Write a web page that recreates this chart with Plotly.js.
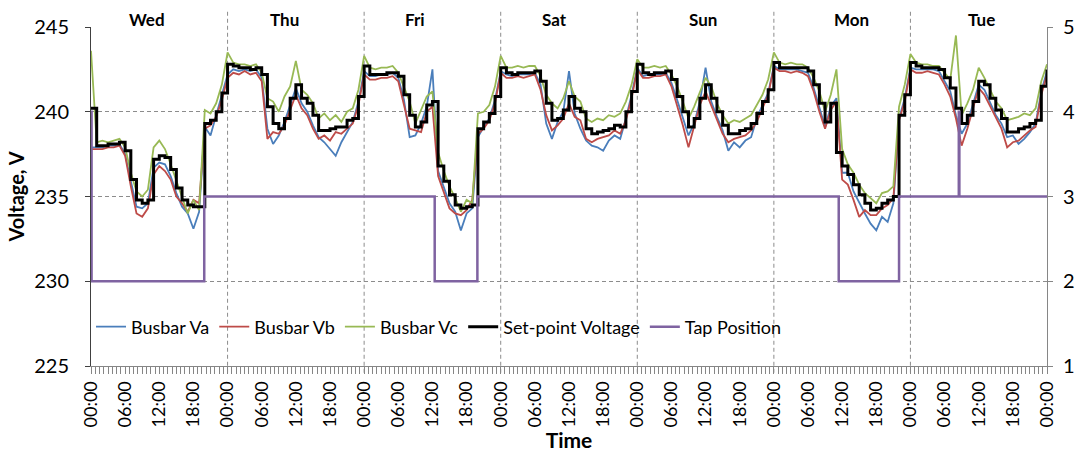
<!DOCTYPE html>
<html><head><meta charset="utf-8">
<script src="https://cdn.plot.ly/plotly-3.0.1.min.js"></script>
<style>html,body{margin:0;padding:0;background:#fff}#chart{width:1081px;height:453px}</style>
</head><body><div id="chart"></div>
<script>
// ---- data (hourly samples, starting Wednesday 00:00) ----
const startDay = [2014, 0, 1]; // a Wednesday
const sampleHours = 1;
const dayLabels = ['Wed', 'Thu', 'Fri', 'Sat', 'Sun', 'Mon', 'Tue'];

const setPoint = [
240.2, 238.0, 238.0, 238.1, 238.1, 238.2, 237.7, 236.0, 234.8, 234.6,
234.8, 237.2, 237.4, 237.3, 236.6, 235.5, 234.8, 234.5, 234.4, 234.4,
239.3, 239.5, 240.0, 241.1, 242.8, 242.7, 242.6, 242.6, 242.5, 242.6,
242.2, 240.3, 239.3, 239.0, 239.6, 240.8, 241.6, 240.8, 240.5, 239.8,
238.9, 238.9, 239.0, 239.1, 239.1, 239.5, 239.6, 240.9, 242.7, 242.2,
242.2, 242.2, 242.3, 242.3, 242.1, 241.0, 239.8, 239.1, 239.4, 240.4,
240.6, 236.8, 235.9, 235.1, 234.5, 234.3, 234.4, 234.5, 239.0, 239.4,
239.9, 240.9, 242.6, 242.3, 242.2, 242.3, 242.3, 242.3, 242.4, 241.8,
240.5, 239.5, 239.6, 240.1, 240.9, 240.2, 240.0, 239.0, 238.7, 238.8,
238.9, 239.0, 239.2, 239.1, 240.0, 241.2, 242.8, 242.3, 242.2, 242.3,
242.3, 242.4, 241.9, 240.9, 240.0, 239.1, 239.6, 240.8, 241.6, 240.8,
240.0, 239.2, 238.7, 238.7, 238.9, 239.0, 239.3, 239.9, 240.6, 241.3,
242.9, 242.6, 242.6, 242.6, 242.6, 242.6, 242.4, 241.6, 240.5, 239.4,
240.5, 237.6, 236.8, 236.3, 235.7, 235.1, 234.6, 234.2, 234.3, 234.6,
234.8, 235.0, 239.8, 241.0, 242.9, 242.7, 242.6, 242.6, 242.6, 242.5,
242.0, 241.4, 240.2, 239.3, 239.8, 240.6, 241.8, 241.6, 240.8, 240.1,
239.6, 238.8, 238.8, 239.0, 239.1, 239.3, 239.5, 241.5, 242.5
];

const busbarVa = [
237.9, 237.9, 237.9, 238.0, 238.0, 238.1, 237.5, 235.9, 234.4, 234.3,
234.6, 236.7, 237.0, 236.9, 236.2, 235.2, 234.4, 234.0, 233.1, 234.1,
239.1, 238.6, 239.8, 240.9, 242.2, 242.5, 242.4, 242.5, 242.4, 242.5,
242.0, 239.0, 238.1, 238.6, 239.4, 240.4, 241.4, 240.5, 240.0, 239.2,
238.5, 238.2, 237.8, 237.4, 238.2, 238.8, 239.4, 240.6, 242.4, 242.1,
242.1, 242.2, 242.2, 242.3, 242.0, 240.7, 238.5, 238.6, 239.3, 240.3,
242.5, 236.5, 235.5, 234.6, 234.1, 233.0, 234.0, 234.3, 238.5, 239.1,
239.6, 240.7, 242.4, 242.2, 242.1, 242.2, 242.2, 242.2, 242.3, 241.6,
239.3, 238.4, 239.4, 240.0, 242.4, 239.9, 239.0, 238.3, 238.0, 237.9,
237.7, 238.3, 238.6, 238.4, 239.6, 241.0, 242.6, 242.1, 242.2, 242.2,
242.2, 242.3, 241.7, 240.7, 239.6, 238.6, 239.3, 240.6, 242.6, 240.6,
239.7, 238.9, 237.7, 238.2, 237.9, 238.3, 238.5, 239.6, 240.4, 241.1,
242.7, 242.5, 242.5, 242.5, 242.5, 242.4, 242.3, 241.4, 240.2, 239.1,
240.3, 240.8, 236.4, 236.4, 235.3, 234.6, 234.0, 233.4, 233.0, 233.8,
233.5, 234.6, 239.6, 240.8, 242.6, 242.5, 242.5, 242.5, 242.5, 242.4,
241.8, 241.2, 239.8, 238.7, 239.3, 240.4, 241.6, 241.3, 240.5, 239.8,
239.3, 238.5, 238.6, 238.1, 238.4, 238.8, 239.3, 241.2, 242.4
];

const busbarVb = [
237.8, 237.8, 237.8, 237.9, 237.9, 238.0, 237.4, 235.6, 234.0, 233.8,
234.3, 236.3, 236.8, 236.5, 236.0, 235.0, 234.6, 234.1, 234.8, 234.6,
239.0, 239.2, 239.7, 240.7, 242.0, 242.3, 242.2, 242.4, 242.2, 242.3,
241.8, 238.4, 238.8, 238.7, 239.2, 240.1, 241.0, 240.2, 239.8, 239.0,
238.4, 238.6, 238.3, 238.8, 238.7, 239.0, 239.3, 240.4, 242.2, 241.9,
241.9, 242.0, 242.0, 242.1, 241.8, 240.4, 239.0, 238.9, 238.8, 240.0,
240.3, 236.2, 235.2, 234.3, 234.0, 233.9, 234.2, 234.8, 238.7, 239.0,
239.5, 240.5, 242.3, 242.0, 242.0, 242.1, 242.0, 242.1, 242.2, 241.3,
239.8, 238.9, 239.2, 239.6, 240.5, 239.7, 239.5, 238.4, 238.2, 238.4,
238.5, 238.6, 238.9, 238.7, 239.5, 240.8, 242.5, 242.0, 242.0, 242.1,
242.1, 242.2, 241.5, 240.4, 239.2, 237.9, 239.1, 240.4, 241.2, 240.4,
239.5, 238.7, 238.2, 238.4, 238.5, 238.6, 238.9, 239.4, 240.2, 241.0,
242.6, 242.4, 242.4, 242.3, 242.4, 242.3, 242.1, 241.2, 240.0, 239.0,
240.1, 240.6, 236.0, 235.7, 234.8, 233.8, 234.2, 233.9, 233.9, 234.3,
234.5, 234.9, 239.5, 240.6, 242.5, 242.3, 242.3, 242.4, 242.3, 242.2,
241.6, 240.9, 239.6, 238.0, 239.0, 240.2, 241.4, 241.0, 240.3, 239.6,
239.0, 237.9, 238.2, 238.3, 238.6, 238.9, 239.1, 241.0, 242.2
];

const busbarVc = [
243.6, 238.2, 238.3, 238.2, 238.3, 238.4, 237.9, 236.4, 235.3, 235.0,
235.4, 237.9, 238.3, 237.8, 236.9, 235.9, 235.0, 234.0, 234.8, 234.2,
240.1, 239.9, 240.5, 241.6, 243.5, 242.9, 242.8, 242.8, 242.7, 242.8,
242.3, 240.8, 240.6, 240.0, 240.9, 241.5, 243.0, 241.3, 241.0, 240.5,
239.6, 239.9, 239.5, 239.8, 239.4, 240.0, 240.2, 241.3, 243.3, 242.6,
242.5, 242.6, 242.6, 242.7, 242.3, 241.4, 240.6, 239.3, 240.1, 240.9,
241.2, 237.6, 236.5, 235.6, 234.9, 234.1, 234.8, 234.6, 239.9, 240.0,
240.4, 241.5, 243.3, 242.6, 242.6, 242.7, 242.6, 242.7, 242.7, 242.1,
241.0, 240.5, 240.2, 240.8, 241.8, 240.9, 240.6, 239.6, 239.4, 239.6,
239.5, 239.8, 239.7, 239.9, 240.6, 241.6, 243.1, 242.6, 242.6, 242.7,
242.6, 242.7, 242.2, 241.5, 240.6, 239.6, 240.3, 241.2, 242.0, 241.5,
240.5, 239.8, 239.3, 239.5, 239.4, 239.6, 239.8, 240.4, 241.0, 241.9,
243.5, 242.9, 242.8, 242.9, 242.8, 242.8, 242.6, 242.0, 241.2, 240.0,
241.0, 242.5, 237.8, 236.9, 236.4, 235.7, 235.2, 234.9, 234.6, 235.2,
235.3, 235.6, 240.3, 241.6, 243.4, 242.9, 242.8, 242.8, 242.7, 242.7,
242.3, 241.9, 244.5, 239.8, 240.5, 241.3, 242.6, 242.0, 241.3, 240.6,
240.2, 239.5, 239.6, 239.7, 239.9, 239.8, 240.2, 241.8, 242.8
];

// tap position: change times (hours from start) and the tap held from each time
const tapHours    = [0, 0.1, 19.9, 60.4, 67.9, 131.4, 142.0, 152.5, 152.6, 168];
const tapPosition = [4, 2,   3,    2,    3,    2,     3,     4,     3,     3];

// ---- helpers ----
const t0 = Date.UTC(startDay[0], startDay[1], startDay[2]);
function hourToDate(h) {
  return new Date(t0 + h * 3600000).toISOString().slice(0, 23).replace('T', ' ');
}
const times = setPoint.map((_, i) => hourToDate(i * sampleHours));
const totalHours = dayLabels.length * 24;

const FONT = 'Lato, "Open Sans", sans-serif';
const traces = [
  {name: 'Busbar Va', x: times, y: busbarVa, type: 'scatter', mode: 'lines',
   line: {color: '#4A7EBB', width: 1.8}},
  {name: 'Busbar Vb', x: times, y: busbarVb, type: 'scatter', mode: 'lines',
   line: {color: '#BE4B48', width: 1.8}},
  {name: 'Busbar Vc', x: times, y: busbarVc, type: 'scatter', mode: 'lines',
   line: {color: '#98B954', width: 1.8}},
  {name: 'Set-point Voltage', x: times, y: setPoint, type: 'scatter', mode: 'lines',
   line: {color: '#000000', width: 3, shape: 'hv'}},
  {name: 'Tap Position', x: tapHours.map(hourToDate), y: tapPosition, type: 'scatter', mode: 'lines',
   yaxis: 'y2', line: {color: '#7F63A1', width: 2.5, shape: 'hv'}}
];

const gridCol = '#8c8c8c';
const shapes = [];
for (let d = 1; d < dayLabels.length; d++) {
  shapes.push({type: 'line', xref: 'x', yref: 'paper',
    x0: hourToDate(d * 24), x1: hourToDate(d * 24), y0: -0.02, y1: 1.05,
    line: {color: gridCol, width: 1, dash: '4px,3px'}, layer: 'below'});
}
const labelShift = [-12, -11, -17, -15, -3, 9, 3];
const annotations = dayLabels.map((lab, d) => ({
  text: '<b>' + lab + '</b>', x: hourToDate(d * 24 + 12), xref: 'x',
  y: 1, yref: 'paper', yanchor: 'bottom', xanchor: 'center', showarrow: false,
  xshift: labelShift[d], yshift: -5,
  font: {family: FONT, size: 17, color: '#000'}
}));

const layout = {
  width: 1081, height: 453,
  margin: {l: 91, r: 34, t: 27, b: 87},
  paper_bgcolor: '#fff', plot_bgcolor: '#fff',
  font: {family: FONT, size: 18, color: '#000'},
  showlegend: true,
  legend: {orientation: 'h', x: 0, y: 0.115, xanchor: 'left', yanchor: 'middle',
    bgcolor: 'rgba(0,0,0,0)', font: {family: FONT, size: 18, color: '#000'},
    traceorder: 'normal'},
  xaxis: {type: 'date', range: [hourToDate(0), hourToDate(totalHours)],
    tick0: hourToDate(0), dtick: 6 * 3600000, tickformat: '%H:%M', tickangle: -90,
    ticks: 'outside', ticklen: 7, tickcolor: '#868686', tickfont: {size: 18},
    showline: true, linecolor: '#868686', linewidth: 1, showgrid: false, zeroline: false,
    minor: {dtick: 45 * 60000, tick0: hourToDate(0), ticks: 'outside', ticklen: 7,
      tickcolor: '#868686', showgrid: false},
    title: {text: '<b>Time</b>', font: {family: FONT, size: 21}, standoff: 4}},
  yaxis: {range: [225, 245], dtick: 5, ticks: 'outside', ticklen: 5, tickcolor: '#404040',
    showline: true, linecolor: '#404040', linewidth: 1, zeroline: false,
    showgrid: true, gridcolor: gridCol, gridwidth: 1, griddash: '4px,3px',
    ticklabelstandoff: 12, tickfont: {size: 20},
    title: {text: '<b>Voltage, V</b>', font: {family: FONT, size: 20}, standoff: 4}},
  yaxis2: {range: [1, 5], dtick: 1, overlaying: 'y', side: 'right',
    showline: true, linecolor: '#868686', linewidth: 1, ticks: 'outside', ticklen: 5,
    tickcolor: '#868686', showgrid: false, zeroline: false, ticklabelstandoff: 6,
    tickfont: {size: 20}},
  shapes: shapes,
  annotations: annotations
};

Plotly.newPlot('chart', traces, layout, {staticPlot: true, displayModeBar: false});
</script>
</body></html>
